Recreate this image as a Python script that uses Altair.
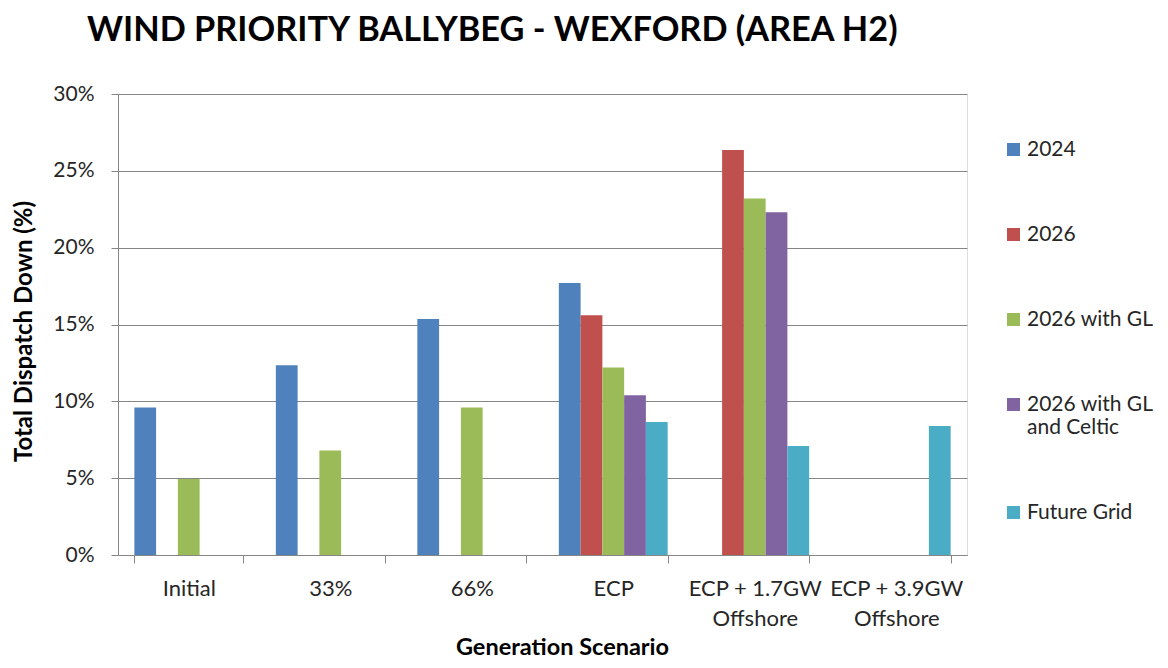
import altair as alt
import pandas as pd

scenarios = ["Initial", "33%", "66%", "ECP", "ECP + 1.7GW Offshore", "ECP + 3.9GW Offshore"]
series = ["2024", "2026", "2026 with GL", "2026 with GL and Celtic", "Future Grid"]
colors = ["#4F81BD", "#C0504D", "#9BBB59", "#8064A2", "#4BACC6"]

v2024 = [9.6, 12.35, 15.35, 17.7, None, None]
v2026 = [None, None, None, 15.6, 26.35, None]
v2026_gl = [4.95, 6.8, 9.6, 12.2, 23.2, None]
v2026_gl_celtic = [None, None, None, 10.4, 22.3, None]
v_future = [None, None, None, 8.65, 7.1, 8.4]

rows = []
for s, vals in zip(series, [v2024, v2026, v2026_gl, v2026_gl_celtic, v_future]):
    for c, v in zip(scenarios, vals):
        if v is not None:
            rows.append({"Scenario": c, "Series": s, "Value": v / 100})
df = pd.DataFrame(rows)

FONT = "Lato"
GRAY = "#868686"
TXT = "#262626"

chart = alt.Chart(df).mark_bar().encode(
    x=alt.X("Scenario:N", sort=scenarios,
            scale=alt.Scale(domain=scenarios, paddingInner=0.231, paddingOuter=0.1155),
            axis=alt.Axis(title="Generation Scenario", labelAngle=0, tickBand="extent",
                          tickSize=8, tickColor=GRAY, domainColor=GRAY, labelPadding=15,
                          labelFont=FONT, labelFontSize=22, labelColor=TXT,
                          labelLineHeight=30, labelOverlap=False, labelLimit=300,
                          labelExpr="split(replace(datum.label, ' Offshore', '|Offshore'), '|')",
                          titleFont=FONT, titleFontSize=23.5, titleFontWeight="bold",
                          titleColor="#000000", titlePadding=6, titleX=444, grid=False)),
    xOffset=alt.XOffset("Series:N", sort=series, scale=alt.Scale(domain=series, paddingInner=0, paddingOuter=0)),
    y=alt.Y("Value:Q", scale=alt.Scale(domain=[0, 0.3], nice=False),
            axis=alt.Axis(title="Total Dispatch Down (%)", format=".0%",
                          values=[0, 0.05, 0.1, 0.15, 0.2, 0.25, 0.3],
                          tickSize=7, tickColor=GRAY, domainColor=GRAY, gridColor=GRAY,
                          labelPadding=17, labelFont=FONT, labelFontSize=21, labelColor=TXT,
                          titleFont=FONT, titleFontSize=24, titleFontWeight="bold",
                          titleColor="#000000", titleX=-82, titleY=237)),
    color=alt.Color("Series:N", sort=series,
                    scale=alt.Scale(domain=series, range=colors),
                    legend=alt.Legend(title=None, orient="none", legendX=885, legendY=45,
                                      symbolType="square", symbolSize=169, symbolStrokeWidth=0,
                                      labelFont=FONT, labelFontSize=21, labelColor=TXT,
                                      labelOffset=3, rowPadding=63, labelLimit=300,
                                      labelExpr="split(replace(datum.label, ' and Celtic', '|and Celtic'), '|')")),
).properties(
    width=849, height=461,
    title=alt.TitleParams("WIND PRIORITY BALLYBEG - WEXFORD (AREA H2)", anchor="start", frame="group",
                          dx=-31, offset=35, font=FONT, fontSize=34.3, fontWeight="bold", color="#000000"),
    autosize=alt.AutoSizeParams(type="none"),
    padding={"left": 110, "top": 86, "right": 193, "bottom": 105},
).configure_view(stroke=None).configure(background="white")

chart.save("out.html", embed_options={"renderer": "svg", "actions": False})
